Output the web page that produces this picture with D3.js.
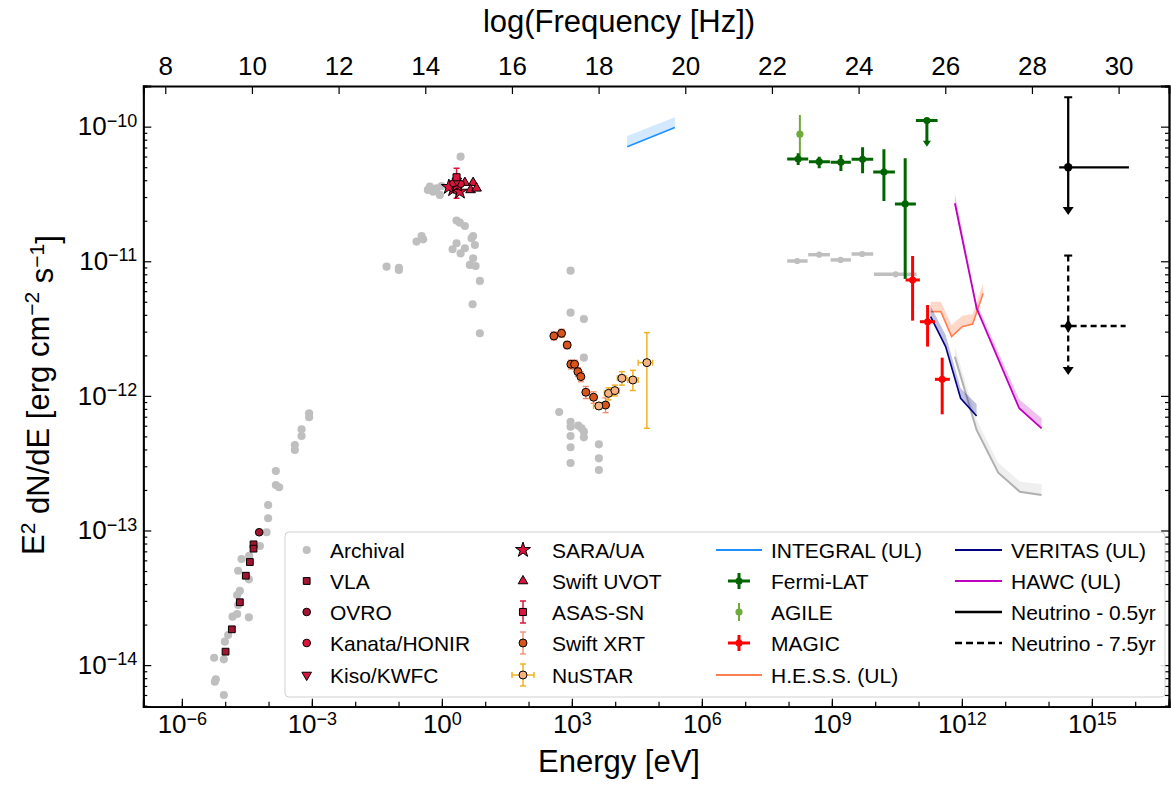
<!DOCTYPE html>
<html>
<head>
<meta charset="utf-8">
<title>SED</title>
<script src="https://d3js.org/d3.v7.min.js"></script>
<style>
  body { margin: 0; background: #fff; }
  svg text { font-family: "Liberation Sans", Arial, sans-serif; fill: #000; }
</style>
</head>
<body>
<div id="chart"></div>
<script>
"use strict"

// all values are log10(E / eV) and log10(E^2 dN/dE / erg cm^-2 s^-1)
var archival = [
  [-5.255,-13.945],[-5.216,-14.106],[-5.239,-14.123],[-5.031,-14.222],[-5.031,-13.957],
  [-5.008,-13.826],[-4.932,-13.776],[-4.830,-13.640],[-4.724,-13.620],[-4.701,-13.553],
  [-4.724,-13.479],[-4.662,-13.449],[-4.454,-13.645],[-4.454,-13.363],[-4.701,-13.299],
  [-4.623,-13.212],[-4.447,-13.189],[-4.200,-13.115],[-4.046,-13.013],[-4.009,-12.909],
  [-4.009,-12.811],[-3.831,-12.662],[-3.755,-12.679],[-3.831,-12.558],[-3.393,-12.365],
  [-3.393,-12.402],[-3.238,-12.248],[-3.238,-12.298],[-3.063,-12.129],[-3.063,-12.159],
  [-1.276,-11.040],[-0.992,-11.048],[-0.992,-11.065],[-0.584,-10.854],[-0.468,-10.812],
  [-0.432,-10.837],[0.339,-10.698],[0.415,-10.713],[0.531,-10.738],[0.339,-10.866],
  [0.247,-10.911],[0.432,-10.941],[0.531,-10.903],[0.685,-10.829],[0.722,-10.812],
  [0.762,-10.879],[0.722,-10.978],[0.646,-11.027],[0.778,-11.035],[0.877,-11.146],
  [0.709,-11.319],[0.877,-11.535],[0.432,-10.223],[-0.277,-10.446],[-0.122,-10.458],
  [-0.007,-10.441],[-0.046,-10.507],[-0.201,-10.483],[-0.323,-10.470],
  [2.970,-11.070],[2.970,-11.382],[3.277,-11.429],[3.277,-11.716],[2.707,-12.120],
  [2.970,-12.192],[2.970,-12.229],[3.146,-12.221],[3.224,-12.241],[3.277,-12.266],
  [2.970,-12.298],[3.277,-12.308],[2.970,-12.382],[3.623,-12.360],[3.623,-12.464],
  [2.970,-12.499],[3.623,-12.551]
];
// [logE, logF, logElo, logEhi]
var archivalGamma = [
  [8.200,-10.998,7.969,8.440],
  [8.708,-10.951,8.454,8.955],
  [9.201,-10.990,8.971,9.439],
  [9.700,-10.946,9.455,9.954],
  [10.471,-11.097,9.970,10.955]
];
var archivalTeVE  = [11.839, 12.340, 12.839, 13.339, 13.840];
var archivalTeVF  = [-11.709, -12.253, -12.571, -12.712, -12.736];
var archivalTeVHi = [-11.634, -12.179, -12.496, -12.637, -12.655];

var vla = [[-4.992,-13.900],[-4.847,-13.734],[-4.662,-13.533],[-4.524,-13.336],[-4.431,-13.234],[-4.346,-13.103],[-4.346,-13.135]];
var ovro = [[-4.216,-13.013]];
var kanata = [[0.261,-10.421],[0.438,-10.426]];
var kiso = [[0.346,-10.403]];
var sara = [[0.261,-10.465],[0.415,-10.483],[0.353,-10.433],[0.162,-10.448]];
var uvot = [[0.531,-10.416],[0.722,-10.416],[0.662,-10.470],[0.801,-10.458]];
// [logE, logF, logFlo, logFhi]
var asassn = [[0.339,-10.376,-10.532,-10.309]];
var swiftXRT = [
  [2.585,-11.555,-11.585,-11.525],[2.762,-11.535,-11.565,-11.505],[2.892,-11.622,-11.650,-11.595],
  [2.977,-11.765,-11.800,-11.735],[3.063,-11.765,-11.800,-11.735],[3.139,-11.820,-11.855,-11.790],
  [3.208,-11.857,-11.895,-11.822],[3.323,-11.973,-12.020,-11.930],[3.501,-12.010,-12.055,-11.970],
  [3.778,-12.068,-12.125,-12.015]
];
// [logE, logF, logElo, logEhi, logFlo, logFhi]
var nustar = [
  [3.623,-12.075,3.50,3.75,-12.10,-12.05],
  [3.847,-11.981,3.75,3.95,-12.03,-11.94],
  [3.993,-11.961,3.90,4.09,-12.00,-11.92],
  [4.154,-11.869,4.05,4.25,-11.92,-11.82],
  [4.408,-11.882,4.29,4.53,-11.96,-11.81],
  [4.731,-11.753,4.530,4.863,-12.241,-11.530]
];
var integralE  = [4.277, 5.377];
var integralF  = [-10.149, -10.007];
var integralHi = [-10.069, -9.930];

var fermi = [
  [8.223,-10.240,7.969,8.454,-10.285,-10.198],
  [8.708,-10.260,8.470,8.955,-10.309,-10.223],
  [9.208,-10.264,8.971,9.439,-10.329,-10.210],
  [9.709,-10.242,9.455,9.954,-10.346,-10.153],
  [10.201,-10.337,9.954,10.455,-10.552,-10.168],
  [10.692,-10.574,10.455,10.939,-11.131,-10.235]
];
// [logE, logF, logElo, logEhi, arrow tip logF]
var fermiUL = [[11.193,-9.955,10.939,11.440,-10.149]];
// [logE, logF, logFlo, logFhi]
var agile = [[8.262,-10.056,-10.235,-9.913]];
var magic = [
  [10.863,-11.139,10.701,11.032,-11.441,-10.961],
  [11.209,-11.449,11.032,11.378,-11.634,-11.325],
  [11.546,-11.877,11.378,11.724,-12.137,-11.716]
];
var hessE  = [11.279, 11.516, 11.763, 12.008, 12.248, 12.492];
var hessF  = [-11.374, -11.374, -11.560, -11.486, -11.466, -11.238];
var hessHi = [-11.300, -11.300, -11.473, -11.404, -11.392, -11.159];
var veritasE  = [11.279, 11.625, 11.971, 12.340];
var veritasF  = [-11.412, -11.634, -12.018, -12.149];
var veritasHi = [-11.332, -11.548, -11.944, -12.060];
var hawcE  = [11.839, 12.340, 13.323, 13.840];
var hawcF  = [-10.569, -11.349, -12.092, -12.241];
var hawcHi = [-10.500, -11.312, -12.025, -12.166];
// [logE, logF, logElo, logEhi, logFhi (cap), arrow tip logF]
var nu05 = [14.454, -10.302, 14.246, 15.855, -9.782, -10.656];
var nu75 = [14.454, -11.481, 14.279, 15.779, -10.958, -11.845];

var energyTickLabels = [-6, -3, 0, 3, 6, 9, 12, 15];
var fluxTickLabels = [-14, -13, -12, -11, -10];
var freqTickLabels = [8, 10, 12, 14, 16, 18, 20, 22, 24, 26, 28, 30];

var legendCol1 = ["Archival", "VLA", "OVRO", "Kanata/HONIR", "Kiso/KWFC"];
var legendCol2 = ["SARA/UA", "Swift UVOT", "ASAS-SN", "Swift XRT", "NuSTAR"];
var legendCol3 = ["INTEGRAL (UL)", "Fermi-LAT", "AGILE", "MAGIC", "H.E.S.S. (UL)"];
var legendCol4 = ["VERITAS (UL)", "HAWC (UL)", "Neutrino - 0.5yr", "Neutrino - 7.5yr"];

// colours
var cGrey = "#bfbfbf", cDark = "#a3142f", cCrim = "#dc143c", cXrt = "#d9541a",
    cXrtErr = "#f0896b", cNu = "#f4b183", cNuErr = "#f2b225", cInt = "#1e90ff",
    cFermi = "#006400", cAgile = "#6fab3b", cMagic = "#ff0000", cHess = "#ff7f50",
    cVer = "#000080", cHawc = "#bf00bf";

var W = 1171, H = 785;
var L = 143.3, R = 1169, T = 86, B = 706.7;

var x = d3.scaleLog().domain([Math.pow(10, -6.89), Math.pow(10, 16.78)]).range([L, R]);
var y = d3.scaleLog().domain([Math.pow(10, -14.309), Math.pow(10, -9.698)]).range([B, T]);
var xf = d3.scaleLinear().domain([-6.89 + 14.383, 16.78 + 14.383]).range([L, R]);
function X(l) { return x(Math.pow(10, l)); }
function Y(l) { return y(Math.pow(10, l)); }

var svg = d3.select("#chart").append("svg").attr("width", W).attr("height", H);
svg.append("rect").attr("width", W).attr("height", H).attr("fill", "#fff");

svg.append("clipPath").attr("id", "clip").append("rect")
  .attr("x", L).attr("y", T).attr("width", R - L).attr("height", B - T);
var plot = svg.append("g").attr("clip-path", "url(#clip)");

function sym(type, size) { return d3.symbol().type(type).size(size)(); }

function markers(g, data, type, size, fill, stroke, rot) {
  g.selectAll(null).data(data).enter().append("path")
    .attr("d", sym(type, size))
    .attr("transform", d => "translate(" + X(d[0]) + "," + Y(d[1]) + ")" + (rot ? " rotate(" + rot + ")" : ""))
    .attr("fill", fill)
    .attr("stroke", stroke || "none")
    .attr("stroke-width", stroke ? 1 : 0);
}

function seg(g, x1, y1, x2, y2, color, w, dash) {
  g.append("line").attr("x1", x1).attr("y1", y1).attr("x2", x2).attr("y2", y2)
    .attr("stroke", color).attr("stroke-width", w)
    .attr("stroke-dasharray", dash || null);
}

function band(g, es, lo, hi, color, alpha, lw) {
  var pts = es.map((e, i) => [e, lo[i], hi[i]]);
  g.append("path").datum(pts)
    .attr("d", d3.area().x(d => X(d[0])).y0(d => Y(d[1])).y1(d => Y(d[2])))
    .attr("fill", color).attr("fill-opacity", alpha);
  g.append("path").datum(pts)
    .attr("d", d3.line().x(d => X(d[0])).y(d => Y(d[1])))
    .attr("fill", "none").attr("stroke", color).attr("stroke-width", lw);
}

function arrowHead(g, cx, tipY, w, h, color) {
  g.append("path")
    .attr("d", "M" + (cx - w / 2) + "," + (tipY - h) + "L" + (cx + w / 2) + "," + (tipY - h) + "L" + cx + "," + tipY + "Z")
    .attr("fill", color);
}

// ---- archival
markers(plot, archival, d3.symbolCircle, 52, cGrey);
archivalGamma.forEach(function(d) {
  seg(plot, X(d[2]), Y(d[1]), X(d[3]), Y(d[1]), cGrey, 3.5);
});
markers(plot, archivalGamma, d3.symbolCircle, 30, cGrey);
band(plot, archivalTeVE, archivalTeVF, archivalTeVHi, "#b0b0b0", 0.2, 2);

// ---- INTEGRAL
band(plot, integralE, integralF, integralHi, cInt, 0.2, 1.6);

// ---- radio / optical
markers(plot, vla, d3.symbolSquare, 46, cDark, "#000");
markers(plot, ovro, d3.symbolCircle, 46, cDark, "#000");
asassn.forEach(function(d) {
  var cx = X(d[0]);
  seg(plot, cx, Y(d[2]), cx, Y(d[3]), cCrim, 1.5);
  seg(plot, cx - 3, Y(d[2]), cx + 3, Y(d[2]), cCrim, 1.5);
  seg(plot, cx - 3, Y(d[3]), cx + 3, Y(d[3]), cCrim, 1.5);
});
markers(plot, sara, d3.symbolStar, 70, cCrim, "#000");
markers(plot, uvot, d3.symbolTriangle, 40, cCrim, "#000");
markers(plot, kanata, d3.symbolCircle, 40, cCrim, "#000");
markers(plot, kiso, d3.symbolTriangle, 40, cCrim, "#000", 180);
markers(plot, asassn, d3.symbolSquare, 50, cCrim, "#000");

// ---- X-ray
swiftXRT.forEach(function(d) {
  var cx = X(d[0]);
  seg(plot, cx, Y(d[2]), cx, Y(d[3]), cXrtErr, 1.3);
  seg(plot, cx - 3, Y(d[2]), cx + 3, Y(d[2]), cXrtErr, 1.3);
  seg(plot, cx - 3, Y(d[3]), cx + 3, Y(d[3]), cXrtErr, 1.3);
});
nustar.forEach(function(d) {
  var cx = X(d[0]), cy = Y(d[1]);
  seg(plot, cx, Y(d[4]), cx, Y(d[5]), cNuErr, 1.5);
  seg(plot, X(d[2]), cy, X(d[3]), cy, cNuErr, 1.5);
  [Y(d[4]), Y(d[5])].forEach(v => seg(plot, cx - 3, v, cx + 3, v, cNuErr, 1.5));
  [X(d[2]), X(d[3])].forEach(v => seg(plot, v, cy - 3, v, cy + 3, cNuErr, 1.5));
});
markers(plot, swiftXRT, d3.symbolCircle, 50, cXrt, "#000");
markers(plot, nustar, d3.symbolCircle, 50, cNu, "#000");

// ---- gamma
agile.forEach(function(d) {
  seg(plot, X(d[0]), Y(d[2]), X(d[0]), Y(d[3]), cAgile, 2);
});
markers(plot, agile, d3.symbolCircle, 40, cAgile);
fermi.forEach(function(d) {
  seg(plot, X(d[2]), Y(d[1]), X(d[3]), Y(d[1]), cFermi, 3);
  seg(plot, X(d[0]), Y(d[4]), X(d[0]), Y(d[5]), cFermi, 3);
});
fermiUL.forEach(function(d) {
  seg(plot, X(d[2]), Y(d[1]), X(d[3]), Y(d[1]), cFermi, 3);
  seg(plot, X(d[0]), Y(d[1]), X(d[0]), Y(d[4]) - 5, cFermi, 3);
  arrowHead(plot, X(d[0]), Y(d[4]), 8, 6, cFermi);
});
markers(plot, fermi, d3.symbolCircle, 40, cFermi);
markers(plot, fermiUL, d3.symbolCircle, 40, cFermi);

band(plot, hessE, hessF, hessHi, cHess, 0.3, 1.6);
band(plot, veritasE, veritasF, veritasHi, cVer, 0.25, 1.6);
band(plot, hawcE, hawcF, hawcHi, cHawc, 0.25, 1.8);

magic.forEach(function(d) {
  seg(plot, X(d[2]), Y(d[1]), X(d[3]), Y(d[1]), cMagic, 3);
  seg(plot, X(d[0]), Y(d[4]), X(d[0]), Y(d[5]), cMagic, 3);
});
markers(plot, magic, d3.symbolCircle, 40, cMagic);

// ---- neutrino upper limits
function neutrino(d, dash, type) {
  var cx = X(d[0]), cy = Y(d[1]);
  seg(plot, X(d[2]), cy, X(d[3]), cy, "#000", 2.3, dash);
  seg(plot, cx, Y(d[4]), cx, Y(d[5]) - 6, "#000", 2.3, dash);
  seg(plot, cx - 4, Y(d[4]), cx + 4, Y(d[4]), "#000", 2);
  arrowHead(plot, cx, Y(d[5]), 11, 8, "#000");
  plot.append("path").attr("d", sym(type, 55)).attr("transform", "translate(" + cx + "," + cy + ")").attr("fill", "#000");
}
neutrino(nu05, null, d3.symbolCircle);
neutrino(nu75, "6,4", d3.symbolDiamond);

// ---- axes
function supLabel(sel, base, expSize) {
  sel.selectAll(".tick text").each(function(d) {
    var e = Math.round(Math.log10(d));
    var t = d3.select(this);
    t.text(base);
    t.append("tspan").attr("dy", "-0.48em").attr("font-size", expSize + "px")
      .text(e < 0 ? "\u2212" + (-e) : String(e));
  });
}

var decadesE = d3.range(-6, 17).map(d => Math.pow(10, d));
var gb = svg.append("g").attr("transform", "translate(0," + B + ")");
gb.call(d3.axisBottom(x).tickValues(decadesE).tickSize(-5).tickFormat(""));
var gb2 = svg.append("g").attr("transform", "translate(0," + B + ")")
  .call(d3.axisBottom(x).tickValues(energyTickLabels.map(d => Math.pow(10, d))).tickSize(-8).tickPadding(8));
supLabel(gb2, "10", 18);

var minorF = [];
d3.range(-15, -9).forEach(function(e) {
  d3.range(2, 10).forEach(function(k) {
    var v = k * Math.pow(10, e);
    if (v > y.domain()[0] && v < y.domain()[1]) minorF.push(v);
  });
});
var majorF = fluxTickLabels.map(d => Math.pow(10, d));
svg.append("g").attr("transform", "translate(" + L + ",0)")
  .call(d3.axisLeft(y).tickValues(minorF).tickSize(-4).tickFormat(""));
var gl = svg.append("g").attr("transform", "translate(" + L + ",0)")
  .call(d3.axisLeft(y).tickValues(majorF).tickSize(-8).tickPadding(6));
supLabel(gl, "10", 18);

svg.append("g").attr("transform", "translate(" + R + ",0)")
  .call(d3.axisRight(y).tickValues(minorF).tickSize(-4).tickFormat(""));
svg.append("g").attr("transform", "translate(" + R + ",0)")
  .call(d3.axisRight(y).tickValues(majorF).tickSize(-8).tickFormat(""));

svg.append("g").attr("transform", "translate(0," + T + ")")
  .call(d3.axisTop(xf).tickValues(freqTickLabels).tickSize(-8).tickPadding(11).tickFormat(d3.format("d")));

svg.selectAll(".domain").attr("stroke", "#000").attr("stroke-width", 1.8);
svg.selectAll(".tick line").attr("stroke", "#000").attr("stroke-width", 1.2);
svg.selectAll(".tick text").attr("font-size", 26).attr("font-family", "Liberation Sans, Arial, sans-serif");

// axis titles
svg.append("text").attr("x", 619).attr("y", 32).attr("text-anchor", "middle")
  .attr("font-size", 31).text("log(Frequency [Hz])");
svg.append("text").attr("x", 619).attr("y", 772).attr("text-anchor", "middle")
  .attr("font-size", 31).text("Energy [eV]");
var yl = svg.append("text").attr("transform", "translate(44,395) rotate(-90)")
  .attr("text-anchor", "middle").attr("font-size", 31);
yl.append("tspan").text("E");
yl.append("tspan").attr("dy", "-0.45em").attr("font-size", 21).text("2");
yl.append("tspan").attr("dy", "0.45em").text(" dN/dE [erg cm");
yl.append("tspan").attr("dy", "-0.45em").attr("font-size", 21).text("\u22122");
yl.append("tspan").attr("dy", "0.45em").text(" s");
yl.append("tspan").attr("dy", "-0.45em").attr("font-size", 21).text("\u22121");
yl.append("tspan").attr("dy", "0.45em").text("]");

// ---- legend
var lg = svg.append("g");
lg.append("rect").attr("x", 285).attr("y", 532).attr("width", 880).attr("height", 165)
  .attr("rx", 4).attr("fill", "#fff").attr("fill-opacity", 0.85)
  .attr("stroke", "#d0d0d0").attr("stroke-width", 1);
var rowY = [550, 581, 612, 643, 675];
function ltext(tx, ty, s) {
  lg.append("text").attr("x", tx).attr("y", ty + 7.5).attr("font-size", 21).text(s);
}
function lmark(cx, cy, type, size, fill, stroke, rot) {
  lg.append("path").attr("d", sym(type, size))
    .attr("transform", "translate(" + cx + "," + cy + ")" + (rot ? " rotate(" + rot + ")" : ""))
    .attr("fill", fill).attr("stroke", stroke || "none").attr("stroke-width", stroke ? 1 : 0);
}
function lseg(x1, y1, x2, y2, c, w, dash) {
  lg.append("line").attr("x1", x1).attr("y1", y1).attr("x2", x2).attr("y2", y2)
    .attr("stroke", c).attr("stroke-width", w).attr("stroke-dasharray", dash || null);
}
legendCol1.forEach((s, i) => ltext(330, rowY[i], s));
legendCol2.forEach((s, i) => ltext(552, rowY[i], s));
legendCol3.forEach((s, i) => ltext(771, rowY[i], s));
legendCol4.forEach((s, i) => ltext(1011, rowY[i], s));

var m1 = 306.7, m2 = 523;
lmark(m1, rowY[0], d3.symbolCircle, 52, cGrey);
lmark(m1, rowY[1], d3.symbolSquare, 46, cDark, "#000");
lmark(m1, rowY[2], d3.symbolCircle, 46, cDark, "#000");
lmark(m1, rowY[3], d3.symbolCircle, 46, cCrim, "#000");
lmark(m1, rowY[4], d3.symbolTriangle, 40, cCrim, "#000", 180);
lmark(m2, rowY[0], d3.symbolStar, 70, cCrim, "#000");
lmark(m2, rowY[1], d3.symbolTriangle, 40, cCrim, "#000");
lseg(m2, rowY[2] - 11, m2, rowY[2] + 11, cCrim, 1.5);
lseg(m2 - 3, rowY[2] - 11, m2 + 3, rowY[2] - 11, cCrim, 1.5);
lseg(m2 - 3, rowY[2] + 11, m2 + 3, rowY[2] + 11, cCrim, 1.5);
lmark(m2, rowY[2], d3.symbolSquare, 50, cCrim, "#000");
lseg(m2, rowY[3] - 11, m2, rowY[3] + 11, cXrtErr, 1.3);
lseg(m2 - 3, rowY[3] - 11, m2 + 3, rowY[3] - 11, cXrtErr, 1.3);
lseg(m2 - 3, rowY[3] + 11, m2 + 3, rowY[3] + 11, cXrtErr, 1.3);
lmark(m2, rowY[3], d3.symbolCircle, 50, cXrt, "#000");
lseg(m2, rowY[4] - 11, m2, rowY[4] + 11, cNuErr, 1.5);
lseg(m2 - 11, rowY[4], m2 + 11, rowY[4], cNuErr, 1.5);
lseg(m2 - 3, rowY[4] - 11, m2 + 3, rowY[4] - 11, cNuErr, 1.5);
lseg(m2 - 3, rowY[4] + 11, m2 + 3, rowY[4] + 11, cNuErr, 1.5);
lseg(m2 - 11, rowY[4] - 3, m2 - 11, rowY[4] + 3, cNuErr, 1.5);
lseg(m2 + 11, rowY[4] - 3, m2 + 11, rowY[4] + 3, cNuErr, 1.5);
lmark(m2, rowY[4], d3.symbolCircle, 50, cNu, "#000");

var l3a = 716, l3b = 762, l3c = 739;
lseg(l3a, rowY[0], l3b, rowY[0], cInt, 1.8);
lseg(l3c - 11, rowY[1], l3c + 11, rowY[1], cFermi, 3);
lseg(l3c, rowY[1] - 8, l3c, rowY[1] + 8, cFermi, 3);
lmark(l3c, rowY[1], d3.symbolCircle, 40, cFermi);
lseg(l3c, rowY[2] - 9, l3c, rowY[2] + 9, cAgile, 2);
lmark(l3c, rowY[2], d3.symbolCircle, 40, cAgile);
lseg(l3c - 11, rowY[3], l3c + 11, rowY[3], cMagic, 3);
lseg(l3c, rowY[3] - 8, l3c, rowY[3] + 8, cMagic, 3);
lmark(l3c, rowY[3], d3.symbolCircle, 40, cMagic);
lseg(l3a, rowY[4], l3b, rowY[4], cHess, 1.8);

var l4a = 955, l4b = 1002;
lseg(l4a, rowY[0], l4b, rowY[0], cVer, 1.8);
lseg(l4a, rowY[1], l4b, rowY[1], cHawc, 1.8);
lseg(l4a, rowY[2], l4b, rowY[2], "#000", 2.3);
lseg(l4a, rowY[3], l4b, rowY[3], "#000", 2.3, "7,4");
</script>
</body>
</html>
